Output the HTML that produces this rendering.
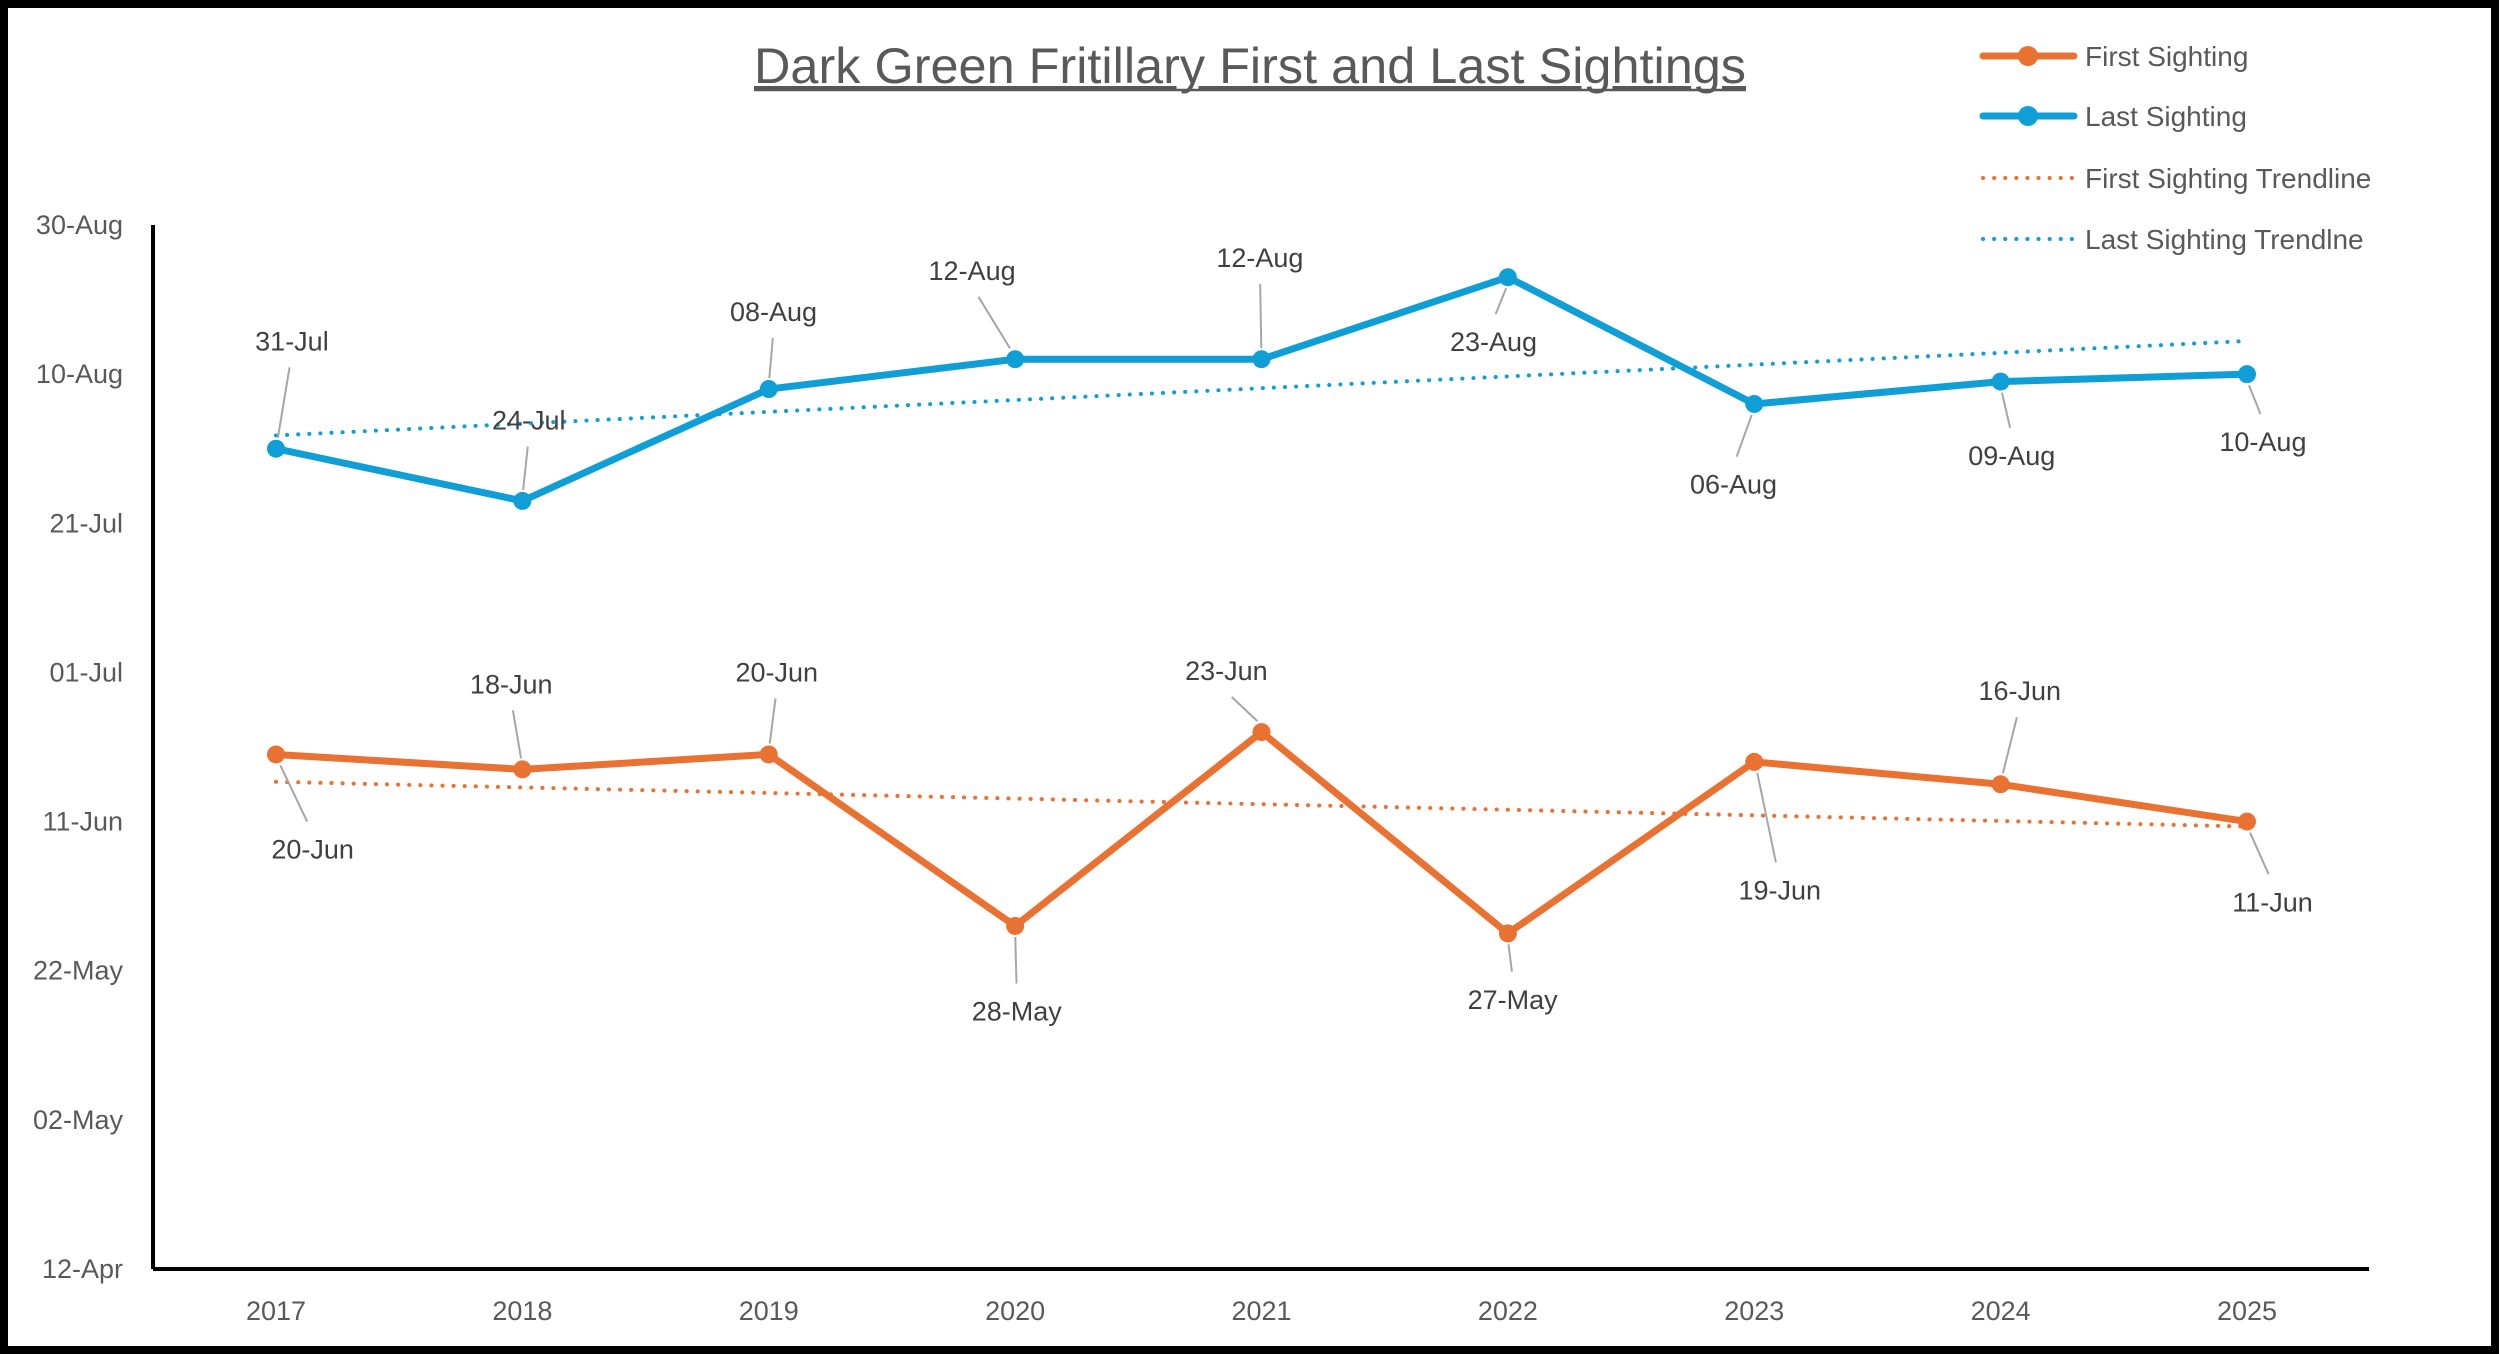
<!DOCTYPE html>
<html><head><meta charset="utf-8">
<style>
html,body{margin:0;padding:0;background:#fff;}
svg{display:block;}
text{font-family:"Liberation Sans",sans-serif;}
</style></head>
<body>
<svg id="chart" width="2500" height="1354" viewBox="0 0 2500 1354" xmlns="http://www.w3.org/2000/svg">
  <rect x="4" y="4" width="2491" height="1346" fill="#fff" stroke="#000" stroke-width="8"/>
  <text x="1250" y="83" text-anchor="middle" font-size="50" fill="#595959" text-decoration="underline" textLength="992" lengthAdjust="spacingAndGlyphs">Dark Green Fritillary First and Last Sightings</text>
  <line x1="754" y1="90" x2="1746" y2="90" stroke="#595959" stroke-width="2.5"/>
  <g id="legend">
    <g>
      <line x1="1983" y1="56" x2="2074" y2="56" stroke="#E97132" stroke-width="7" stroke-linecap="round"/>
      <circle cx="2028" cy="56" r="10" fill="#E97132"/>
      <text x="2085" y="66" font-size="28" fill="#595959">First Sighting</text>
    </g>
    <g>
      <line x1="1983" y1="116" x2="2074" y2="116" stroke="#0F9ED5" stroke-width="7" stroke-linecap="round"/>
      <circle cx="2028" cy="116" r="10" fill="#0F9ED5"/>
      <text x="2085" y="126" font-size="28" fill="#595959">Last Sighting</text>
    </g>
    <g>
      <line x1="1983" y1="178" x2="2074" y2="178" stroke="#E97132" stroke-width="4" stroke-linecap="round" stroke-dasharray="0.1 11"/>
      <text x="2085" y="188" font-size="28" fill="#595959">First Sighting Trendline</text>
    </g>
    <g>
      <line x1="1983" y1="239" x2="2074" y2="239" stroke="#0F9ED5" stroke-width="4" stroke-linecap="round" stroke-dasharray="0.1 11"/>
      <text x="2085" y="249" font-size="28" fill="#595959">Last Sighting Trendlne</text>
    </g>
  </g>
  <g id="plot"></g>
</svg>
<script>
const years = ["2017","2018","2019","2020","2021","2022","2023","2024","2025"];
const firstSighting = ["20-Jun","18-Jun","20-Jun","28-May","23-Jun","27-May","19-Jun","16-Jun","11-Jun"];
const lastSighting = ["31-Jul","24-Jul","08-Aug","12-Aug","12-Aug","23-Aug","06-Aug","09-Aug","10-Aug"];
const yTickLabels = ["12-Apr","02-May","22-May","11-Jun","01-Jul","21-Jul","10-Aug","30-Aug"];

const S = 1.5944;
const lastLabelOff = [[10,-68],[4,-51],[3,-49],[-27,-56],[-1,-64],[-9,40],[-13,50],[7,46],[10,42]];
const firstLabelOff = [[23,59],[-7,-54],[5,-52],[1,53],[-22,-39],[3,41],[16,80],[12,-59],[16,50]];

const monthStart = {Jan:0,Feb:31,Mar:59,Apr:90,May:120,Jun:151,Jul:181,Aug:212,Sep:243,Oct:273,Nov:304,Dec:334};
function dayOf(s){const p=s.split("-");return monthStart[p[1]]+parseInt(p[0],10);}
const dMin = dayOf(yTickLabels[0]), dMax = dayOf(yTickLabels[yTickLabels.length-1]);
const plotL=153, plotR=2369, plotT=225, plotB=1269;
const x0=276, x1=2247;
function xScale(i){return x0+(x1-x0)*i/(years.length-1);}
function yScale(d){return plotB-(d-dMin)/(dMax-dMin)*(plotB-plotT);}

const NS="http://www.w3.org/2000/svg";
const g=document.getElementById("plot");
function mk(tag,attrs,parent){const e=document.createElementNS(NS,tag);for(const k in attrs)e.setAttribute(k,attrs[k]);(parent||g).appendChild(e);return e;}

// axes
const yAxis=mk("line",{x1:plotL,y1:plotT,x2:plotL,y2:plotB,stroke:"#000","stroke-width":4});


const xAxis=mk("line",{x1:plotL,y1:plotB,x2:plotR,y2:plotB,stroke:"#000","stroke-width":4});



yTickLabels.forEach(function(t){
  const e=mk("text",{x:123,y:yScale(dayOf(t))+9,"text-anchor":"end","font-size":27,fill:"#595959"});
  e.textContent=t;
  
  
});
years.forEach(function(yr,i){
  const e=mk("text",{x:xScale(i),y:1320,"text-anchor":"middle","font-size":27,fill:"#595959"});
  e.textContent=yr;
  
  
});

function trend(vals,color,name){
  const n=vals.length; let sx=0,sy=0,sxx=0,sxy=0;
  vals.forEach(function(v,i){const d=dayOf(v);sx+=i;sy+=d;sxx+=i*i;sxy+=i*d;});
  const b=(n*sxy-sx*sy)/(n*sxx-sx*sx), a=(sy-b*sx)/n;
  const e=mk("line",{x1:xScale(0),y1:yScale(a),x2:xScale(n-1),y2:yScale(a+b*(n-1)),stroke:color,"stroke-width":4,"stroke-linecap":"round","stroke-dasharray":"0.1 11"});
  
  
}
function series(vals,color,offs,name){
  const pts=vals.map(function(v,i){return [xScale(i),yScale(dayOf(v))];});
  const pl=mk("polyline",{points:pts.map(p=>p.join(",")).join(" "),fill:"none",stroke:color,"stroke-width":7,"stroke-linejoin":"round","stroke-linecap":"round"});
  
  
  pts.forEach(function(p,i){
    const dx=offs[i][0]*S, dy=offs[i][1]*S;
    const sg=dy>0?1:-1;
    const ex=p[0]+dx*0.85, ey=p[1]+dy-sg*27;
    const sx=p[0]+dx*0.12, sy=p[1]+sg*11;
    if(Math.abs(ey-p[1])>18){
      const ld=mk("line",{x1:sx,y1:sy,x2:ex,y2:ey,stroke:"#a6a6a6","stroke-width":2});
      
      
    }
  });
  pts.forEach(function(p,i){
    const c=mk("circle",{cx:p[0],cy:p[1],r:9,fill:color});
    
    
    const t=mk("text",{x:p[0]+offs[i][0]*S,y:p[1]+offs[i][1]*S+10,"text-anchor":"middle","font-size":27,fill:"#404040"});
    t.textContent=vals[i];
    
    
  });
}
trend(lastSighting,"#0F9ED5","last-sighting-trendline");
trend(firstSighting,"#E97132","first-sighting-trendline");
series(lastSighting,"#0F9ED5",lastLabelOff,"last-sighting");
series(firstSighting,"#E97132",firstLabelOff,"first-sighting");
</script>
</body></html>
